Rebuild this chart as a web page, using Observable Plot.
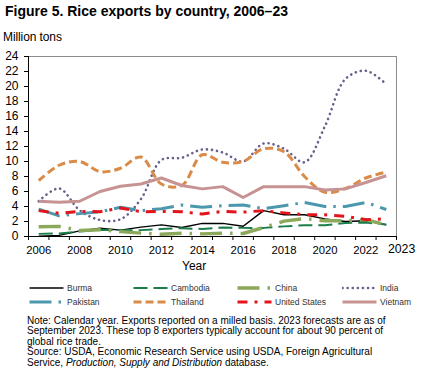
<!DOCTYPE html>
<html>
<head>
<meta charset="utf-8">
<script src="https://cdn.jsdelivr.net/npm/d3@7"></script>
<script src="https://cdn.jsdelivr.net/npm/@observablehq/plot@0.6"></script>
<style>
  html, body { margin: 0; padding: 0; background: #fff; }
  body { width: 438px; height: 372px; position: relative; overflow: hidden; font-family: "Liberation Sans", Arial, sans-serif; color: #000; }
  .abs { position: absolute; white-space: nowrap; }
  #title { left: 5px; top: 4px; font-size: 14px; line-height: 14px; font-weight: bold; }
  #unit { left: 3px; top: 31px; font-size: 12px; line-height: 12px; letter-spacing: -0.1px; }
  #chart { position: absolute; left: 0; top: 44px; }
  #xlabel { left: 182px; top: 260px; font-size: 12px; line-height: 12px; }
  .leg { position: absolute; height: 12px; display: flex; align-items: center; font-size: 8.5px; color: #333; }
  .leg svg { margin-right: 3px; }
  #note { left: 27px; top: 316px; font-size: 10px; line-height: 10.4px; letter-spacing: 0px; }
</style>
</head>
<body>
<div id="title" class="abs">Figure 5. Rice exports by country, 2006–23</div>
<div id="unit" class="abs">Million tons</div>
<div id="chart"></div>
<div id="xlabel" class="abs">Year</div>
<div id="legend"></div>
<div id="note" class="abs">Note: Calendar  year. Exports reported on a milled  basis. 2023 forecasts are as of<br>September 2023. These top 8 exporters typically account for about 90 percent of<br>global rice trade.<br>Source: USDA, Economic Research Service using USDA, Foreign Agricultural<br>Service, <i>Production, Supply and Distribution</i> database.</div>
<script>
// ---- data ----
const years = [2006,2007,2008,2009,2010,2011,2012,2013,2014,2015,2016,2017,2018,2019,2020,2021,2022,2023];
const xLabelYears = [2006,2008,2010,2012,2014,2016,2018,2020,2022];
const lastXLabel = "2023";
const yTicks = [0,2,4,6,8,10,12,14,16,18,20,22,24];

const burma    = [0.05,0.15,0.75,1.1,0.85,1.25,1.55,1.2,1.75,1.75,1.37,3.45,2.9,2.9,2.35,2.0,2.1,1.55];
const cambodia = [0.35,0.4,0.65,0.9,0.85,0.85,1.0,1.1,1.0,1.2,1.15,1.15,1.35,1.5,1.5,1.8,1.85,1.6];
const china    = [1.3,1.35,0.8,0.9,0.65,0.45,0.3,0.45,0.35,0.45,0.4,1.2,2.05,2.4,2.1,2.1,2.25,1.55];
const india    = [4.7,6.4,3.5,2.2,2.3,5.0,10.2,10.5,11.6,11.2,10.0,12.4,11.7,9.9,14.7,21.0,22.1,20.3];
const pakistan = [3.65,2.75,3.05,3.3,3.9,3.45,3.7,4.2,3.9,4.1,4.2,3.7,4.1,4.55,4.0,4.0,4.55,3.6];
const thailand = [7.45,9.5,10.0,8.65,9.1,10.6,7.0,6.8,10.9,9.9,10.0,11.7,11.3,8.0,5.9,6.4,7.8,8.6];
const unitedStates = [3.45,3.1,3.35,3.3,3.8,3.3,3.35,3.3,3.0,3.35,3.25,3.45,3.15,2.9,2.9,2.7,2.25,2.35];
const vietnam  = [4.7,4.57,4.7,6.0,6.7,7.0,7.8,6.8,6.35,6.65,5.2,6.65,6.65,6.65,6.2,6.35,7.2,8.1];

const seriesNames = ["Burma","Cambodia","China","India","Pakistan","Thailand","United States","Vietnam"];
const seriesValues = [burma, cambodia, china, india, pakistan, thailand, unitedStates, vietnam];

// ---- styles ----
const styles = {
  "Burma":         {stroke: "#000000", width: 1.5, dash: null, cap: "butt", curve: "linear"},
  "Cambodia":      {stroke: "#1b7d4a", width: 2,   dash: "14,6", cap: "butt", curve: "linear"},
  "China":         {stroke: "#8ca85a", width: 3.5, dash: "22,8,2.5,8", cap: "butt", curve: "linear"},
  "India":         {stroke: "#6b5f8e", width: 2.6, dash: "0.1,5", cap: "round", curve: "catmull-rom"},
  "Pakistan":      {stroke: "#4b98ae", width: 3,   dash: "22,7,2.5,7", cap: "butt", curve: "linear"},
  "Thailand":      {stroke: "#d98b47", width: 3,   dash: "8,4", cap: "butt", curve: "catmull-rom"},
  "United States": {stroke: "#e3141c", width: 3,   dash: "10,7,3,7", cap: "butt", curve: "linear"},
  "Vietnam":       {stroke: "#c79392", width: 3,   dash: null, cap: "butt", curve: "linear"}
};

const boundaries = years.map(y => y - 0.5).concat([years[years.length - 1] + 0.5]);

const lineMarks = seriesNames.map((name, k) => {
  const s = styles[name];
  const rows = years.map((yr, i) => ({year: yr, value: seriesValues[k][i]}));
  return Plot.line(rows, {
    x: "year", y: "value",
    stroke: s.stroke, strokeWidth: s.width,
    strokeDasharray: s.dash || undefined,
    strokeLinecap: s.cap, strokeLinejoin: "round",
    curve: s.curve
  });
});

const chart = Plot.plot({
  width: 438,
  height: 236,
  marginTop: 12,
  marginBottom: 44,
  marginLeft: 28,
  marginRight: 42,
  x: {domain: [boundaries[0], boundaries[boundaries.length - 1]], axis: null, label: null},
  y: {domain: [0, 24], axis: null, label: null},
  style: {fontFamily: "'Liberation Sans', Arial, sans-serif", color: "#000", background: "#fff", overflow: "visible"},
  marks: [
    Plot.frame({stroke: "#8c8c8c", strokeWidth: 1}),
    Plot.axisY({ticks: yTicks, tickSize: 4, tickPadding: 6, fontSize: 12, label: null, tickFormat: d => String(d)}),
    Plot.axisX({ticks: boundaries, tickSize: 4, label: null, tickFormat: () => ""}),
    Plot.axisX({ticks: xLabelYears, tickSize: 0, tickPadding: 9, fontSize: 11.3, label: null, tickFormat: d => String(d)}),
    Plot.text([lastXLabel], {x: years[years.length - 1] + 0.75, y: 0, dy: 13, text: d => d, fontSize: 12.3, lineAnchor: "middle"}),
    ...lineMarks,
    Plot.ruleX([boundaries[0]], {stroke: "#000", strokeWidth: 1}),
    Plot.ruleY([0], {stroke: "#000", strokeWidth: 1})
  ]
});
document.getElementById("chart").appendChild(chart);

// ---- legend ----
const legCols = [29, 133, 237, 342];
const legRows = [282, 296];
const legend = document.getElementById("legend");
seriesNames.forEach((name, k) => {
  const s = styles[name];
  const col = k % 4, row = Math.floor(k / 4);
  const div = document.createElement("div");
  div.className = "leg";
  div.style.left = legCols[col] + "px";
  div.style.top = legRows[row] + "px";
  const ns = "http://www.w3.org/2000/svg";
  const svg = document.createElementNS(ns, "svg");
  svg.setAttribute("width", 35);
  svg.setAttribute("height", 8);
  const ln = document.createElementNS(ns, "line");
  ln.setAttribute("x1", 0.5); ln.setAttribute("x2", 34.5);
  ln.setAttribute("y1", 4); ln.setAttribute("y2", 4);
  ln.setAttribute("stroke", s.stroke);
  ln.setAttribute("stroke-width", s.width);
  if (s.dash) ln.setAttribute("stroke-dasharray", s.dash);
  ln.setAttribute("stroke-linecap", s.cap);
  svg.appendChild(ln);
  div.appendChild(svg);
  const t = document.createElement("span");
  t.textContent = name;
  div.appendChild(t);
  legend.appendChild(div);
});
</script>
</body>
</html>
